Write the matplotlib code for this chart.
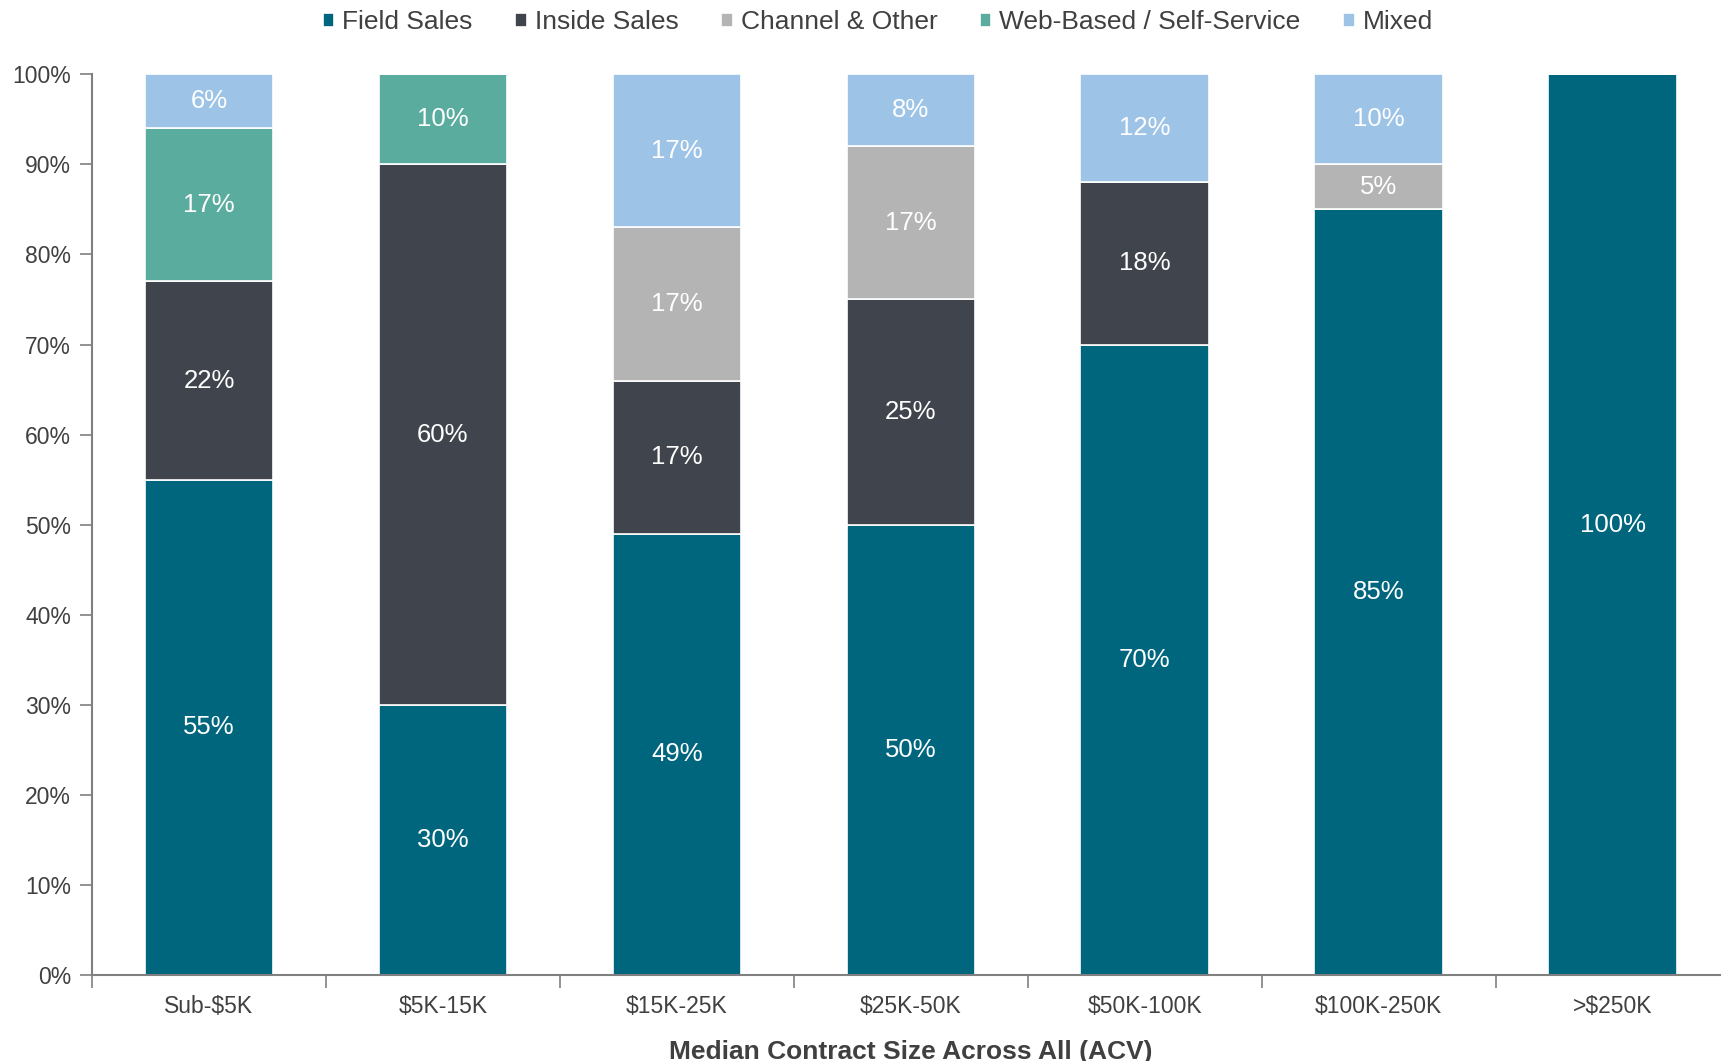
import numpy as np
import matplotlib.pyplot as plt

plt.rcParams['font.family'] = ['Liberation Sans', 'DejaVu Sans']

categories = ['Sub-$5K', '$5K-15K', '$15K-25K', '$25K-50K', '$50K-100K', '$100K-250K', '>$250K']
field_sales = [55, 30, 49, 50, 70, 85, 100]
inside_sales = [22, 60, 17, 25, 18, 0, 0]
channel_other = [0, 0, 17, 17, 0, 5, 0]
web_self_service = [17, 10, 0, 0, 0, 0, 0]
mixed = [6, 0, 17, 8, 12, 10, 0]

series = [
    ('Field Sales', field_sales, '#00667E'),
    ('Inside Sales', inside_sales, '#40444C'),
    ('Channel & Other', channel_other, '#B4B4B4'),
    ('Web-Based / Self-Service', web_self_service, '#59AC9E'),
    ('Mixed', mixed, '#9DC3E6'),
]

text_color = '#404040'
axis_color = '#808080'

fig = plt.figure(figsize=(17.21, 10.61), dpi=100)
ax = fig.add_axes([0.0535, 0.081, 0.9515, 0.849])

x = np.arange(len(categories))
bottom = np.zeros(len(categories))
handles = []
for name, vals, color in series:
    vals = np.array(vals, dtype=float)
    bars = ax.bar(x, vals, 0.55, bottom=bottom, color=color,
                  edgecolor='white', linewidth=1.2, label=name)
    handles.append(bars)
    for xi, b, v in zip(x, bottom, vals):
        if v > 0:
            ax.text(xi, b + v / 2, f'{v:.0f}%', ha='center', va='center',
                    color='white', fontsize=18.5)
    bottom += vals

ax.set_xlim(-0.5, 6.5)
ax.set_ylim(0, 100)
ax.set_yticks(np.arange(0, 101, 10))
ax.set_yticklabels([f'{v}%' for v in range(0, 101, 10)])
ax.set_xticks(x)
ax.set_xticklabels(categories)
ax.set_xticks(np.arange(-0.5, 6.6, 1), minor=True)
ax.tick_params(axis='x', which='major', length=0, pad=14, labelsize=16.5, labelcolor=text_color)
ax.tick_params(axis='x', which='minor', length=9, color=axis_color, width=1.2)
ax.tick_params(axis='y', length=9, color=axis_color, width=1.2, pad=6,
               labelsize=16.5, labelcolor=text_color)

for side in ['top', 'right']:
    ax.spines[side].set_visible(False)
for side in ['left', 'bottom']:
    ax.spines[side].set_color(axis_color)
    ax.spines[side].set_linewidth(1.5)

ax.set_xlabel('Median Contract Size Across All (ACV)', fontsize=19, fontweight='bold',
              color=text_color, labelpad=16)

fig.legend(handles=handles, loc='center', bbox_to_anchor=(0.51, 0.979), ncol=5,
           frameon=False, fontsize=19, handlelength=0.45, handleheight=0.45,
           handletextpad=0.3, columnspacing=1.6, labelcolor=text_color)

fig.savefig('out.png', dpi=100)
